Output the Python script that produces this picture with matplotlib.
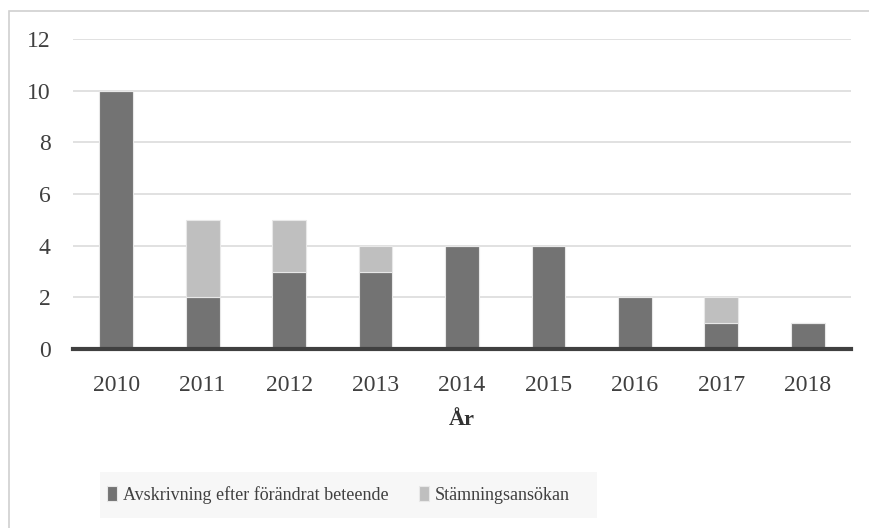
import matplotlib.pyplot as plt
from matplotlib.patches import Rectangle

# data
years = ['2010', '2011', '2012', '2013', '2014', '2015', '2016', '2017', '2018']
avskrivning = [10, 2, 3, 3, 4, 4, 2, 1, 1]
stamning = [0, 3, 2, 1, 0, 0, 0, 1, 0]
yticks = [0, 2, 4, 6, 8, 10, 12]

dark = '#737373'
light = '#bfbfbf'

plt.rcParams['font.family'] = ['Liberation Serif', 'DejaVu Serif']

fig = plt.figure(figsize=(8.7, 5.28), dpi=100)
W, H = 870, 528

# outer chart border (cropped on top/right/bottom in the reference)
fig.patches.append(Rectangle((9 / W, -0.1), 1.5, (H - 11) / H + 0.1,
                             transform=fig.transFigure, fill=False,
                             edgecolor='#d0d0d0', linewidth=1.2))
# legend background
fig.patches.append(Rectangle((100 / W, 1 - 518 / H), 497 / W, 46 / H,
                             transform=fig.transFigure, facecolor='#f7f7f7',
                             edgecolor='none'))

ax = fig.add_axes([73 / W, (H - 349) / H, (851 - 73) / W, (349 - 39) / H])

x = list(range(len(years)))
ax.bar(x, avskrivning, width=0.39, color=dark, edgecolor='#e8e8e8',
       linewidth=0.8, label='Avskrivning efter förändrat beteende', zorder=3)
ax.bar(x, stamning, width=0.39, bottom=avskrivning, color=light,
       edgecolor='#e8e8e8', linewidth=0.8, label='Stämningsansökan', zorder=3)

ax.set_xlim(-0.5, len(years) - 0.5)
ax.set_ylim(0, 12)
ax.set_yticks(yticks)
ax.set_xticks(x)
ax.set_xticklabels(years)
for y in yticks[1:]:
    ax.axhline(y, color='#d9d9d9', linewidth=1.1, zorder=1)
ax.axhline(0, color='#404040', linewidth=3, zorder=4, clip_on=False)

for s in ax.spines.values():
    s.set_visible(False)
ax.tick_params(length=0, labelsize=17, colors='#404040')
ax.tick_params(axis='y', pad=16)
ax.tick_params(axis='x', pad=19)
ax.set_xlabel('År', fontsize=16, fontweight='bold', color='#333333', labelpad=10)

fig.legend(loc='center left', bbox_to_anchor=(93 / W, 1 - 495 / H), ncol=2,
           frameon=False, fontsize=13, handlelength=0.55, handleheight=0.9,
           handletextpad=0.3, columnspacing=1.7, borderpad=0.3,
           labelcolor='#404040')

fig.savefig('out.png', dpi=100)
